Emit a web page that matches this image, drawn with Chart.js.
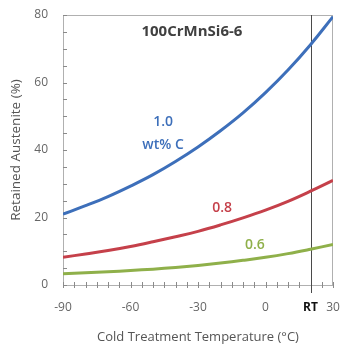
<!DOCTYPE html>
<html><head><meta charset="utf-8">
<script src="https://cdn.jsdelivr.net/npm/chart.js@4/dist/chart.umd.min.js"></script>
<style>html,body{margin:0;padding:0;background:#fff}#w{width:342px;height:346px}</style>
</head><body><div id="w"><canvas id="c" width="342" height="346"></canvas></div>
<script>
const temps = [-90,-80,-70,-60,-50,-40,-30,-20,-10,0,10,20,30];
const c10 = [21.0,23.5,26.2,29.3,32.7,36.6,40.9,45.7,51.0,57.0,63.7,71.2,79.5];
const c08 = [8.2,9.2,10.2,11.4,12.8,14.3,15.9,17.8,19.9,22.2,24.8,27.8,31.0];
const c06 = [3.3,3.6,3.9,4.3,4.7,5.2,5.8,6.5,7.3,8.2,9.3,10.6,12.0];
const xTicks = [-90,-60,-30,0,20,30];
const yTicks = [0,20,40,60,80];
const rtTemp = 20;
const chartTitle = '100CrMnSi6-6';
const notes = [
  {t:'1.0', x:-45.5, y:48.2, c:'#3d6fba'},
  {t:'wt% C', x:-45.5, y:41.5, c:'#3d6fba'},
  {t:'0.8', x:-19.3, y:22.9, c:'#c5404a'},
  {t:'0.6', x:-4.7, y:11.7, c:'#8fb04a'}
];
const FONT = '"Open Sans", sans-serif';
const mk = (d,col)=>({data:temps.map((t,i)=>({x:t,y:d[i]})),borderColor:col,borderWidth:3,pointRadius:0,tension:0.4,fill:false});
const noPad = s=>{s.paddingLeft=0;s.paddingRight=0;s.paddingTop=0;s.paddingBottom=0;};
const deco = {
  id:'deco',
  beforeDatasetsDraw(ch){
    const {ctx,chartArea:a,scales:{x,y}}=ch;
    ctx.save();
    ctx.strokeStyle='#b0b0b0';ctx.lineWidth=1;
    ctx.strokeRect(a.left+0.5,a.top+0.5,a.right-a.left-1,a.bottom-a.top);
    ctx.strokeStyle='#8a8a8a';
    ctx.beginPath();
    for(let v=0;v<=80;v+=5){const p=Math.round(y.getPixelForValue(v))+0.5;ctx.moveTo(a.left,p);ctx.lineTo(a.left+4,p);}
    for(let v=-90;v<=30;v+=5){const p=Math.round(x.getPixelForValue(v))+0.5;ctx.moveTo(p,a.bottom-3);ctx.lineTo(p,a.bottom+3);}
    ctx.stroke();
    const rp=Math.round(x.getPixelForValue(rtTemp))+0.5;
    ctx.strokeStyle='#4a4a4a';ctx.beginPath();ctx.moveTo(rp,a.top);ctx.lineTo(rp,a.bottom+8);ctx.stroke();
    ctx.restore();
  },
  afterDatasetsDraw(ch){
    const {ctx,scales:{x,y}}=ch;
    ctx.save();ctx.textAlign='center';ctx.textBaseline='middle';
    ctx.fillStyle='#404040';ctx.font='bold 15px '+FONT;
    ctx.fillText(chartTitle,x.getPixelForValue(-32.7),y.getPixelForValue(75));
    ctx.font='600 14px '+FONT;
    notes.forEach(n=>{ctx.fillStyle=n.c;ctx.fillText(n.t,x.getPixelForValue(n.x),y.getPixelForValue(n.y));});
    ctx.restore();
  }
};
new Chart(document.getElementById('c'),{
  type:'line',
  data:{datasets:[mk(c10,'#3d6fba'),mk(c08,'#c5404a'),mk(c06,'#8fb04a')]},
  options:{
    responsive:false,animation:false,
    layout:{padding:{top:15,right:9,left:0,bottom:0}},
    plugins:{legend:{display:false},tooltip:{enabled:false}},
    scales:{
      x:{type:'linear',min:-90,max:30,
        afterBuildTicks:s=>{s.ticks=xTicks.map(v=>({value:v}));},
        afterFit:s=>{s.height=61;noPad(s);},
        grid:{display:false,drawTicks:false},border:{display:true,color:'#8a8a8a'},
        ticks:{padding:15,maxRotation:0,autoSkip:false,
          callback:v=>v===rtTemp?'RT':String(v),
          color:c=>c.tick&&c.tick.value===rtTemp?'#111':'#666',
          font:c=>c.tick&&c.tick.value===rtTemp?{family:FONT,size:12,weight:'bold'}:{family:FONT,size:12}},
        title:{display:true,text:'Cold Treatment Temperature (°C)',color:'#555',font:{family:FONT,size:13},padding:{top:10,bottom:1}}
      },
      y:{type:'linear',min:0,max:80,
        afterBuildTicks:s=>{s.ticks=yTicks.map(v=>({value:v}));},
        afterFit:s=>{s.width=63;noPad(s);},
        grid:{display:false,drawTicks:false},border:{display:true,color:'#8a8a8a'},
        ticks:{padding:15,color:'#666',font:{family:FONT,size:12}},
        title:{display:true,text:'Retained Austenite (%)',color:'#555',font:{family:FONT,size:13.5},padding:{top:8,bottom:0}}
      }
    }
  },
  plugins:[deco]
});
</script></body></html>
